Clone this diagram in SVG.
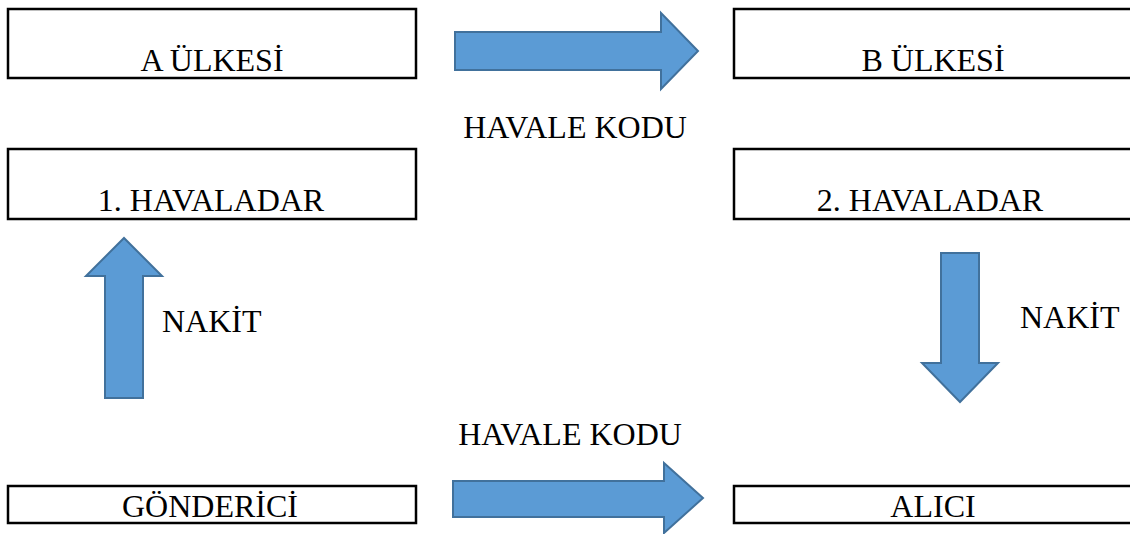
<svg xmlns="http://www.w3.org/2000/svg" width="1130" height="534" viewBox="0 0 1130 534">
<style>
.box{fill:#fff;stroke:#000;stroke-width:2.5}
.arr{fill:#5B9BD5;stroke:#41719C;stroke-width:2;stroke-linejoin:miter}
.c{text-anchor:middle}
</style>
<rect width="1130" height="534" fill="#fff"/>
<g font-family="Liberation Serif" font-size="32" fill="#000">
<g id="a-ulkesi"><rect class="box" x="8" y="9" width="408" height="69"/><text class="c" x="212" y="71" font-family="Liberation Serif">A ÜLKESİ</text></g>
<g id="b-ulkesi"><rect class="box" x="734" y="9" width="400" height="69"/><text class="c" x="933" y="71" font-family="Liberation Serif">B ÜLKESİ</text></g>
<g id="havaladar1"><rect class="box" x="8" y="149" width="408" height="70"/><text class="c" x="211" y="211" font-family="Liberation Serif">1. HAVALADAR</text></g>
<g id="havaladar2"><rect class="box" x="734" y="149" width="400" height="70"/><text class="c" x="930" y="211" font-family="Liberation Serif">2. HAVALADAR</text></g>
<g id="gonderici"><rect class="box" x="8" y="486" width="408" height="37"/><text class="c" x="210" y="517" font-family="Liberation Serif">GÖNDERİCİ</text></g>
<g id="alici"><rect class="box" x="734" y="486" width="400" height="37"/><text class="c" x="933" y="517" font-family="Liberation Serif">ALICI</text></g>
<g id="connectors">
<polygon class="arr" points="455,32 661,32 661,13 698,51 661,89 661,70 455,70"/>
<polygon class="arr" points="453,481 664,481 664,463 703,498 664,533 664,517 453,517"/>
<polygon class="arr" points="105,398 105,276 86,276 124,238 162,276 143,276 143,398"/>
<polygon class="arr" points="941,253 979,253 979,363 998,363 960,402 922,363 941,363"/>
<text class="c" x="575" y="138" font-family="Liberation Serif">HAVALE KODU</text>
<text class="c" x="570" y="445" font-family="Liberation Serif">HAVALE KODU</text>
<text x="162" y="332" font-family="Liberation Serif">NAKİT</text>
<text x="1020" y="328" font-family="Liberation Serif">NAKİT</text>
</g>
</g>
</svg>
